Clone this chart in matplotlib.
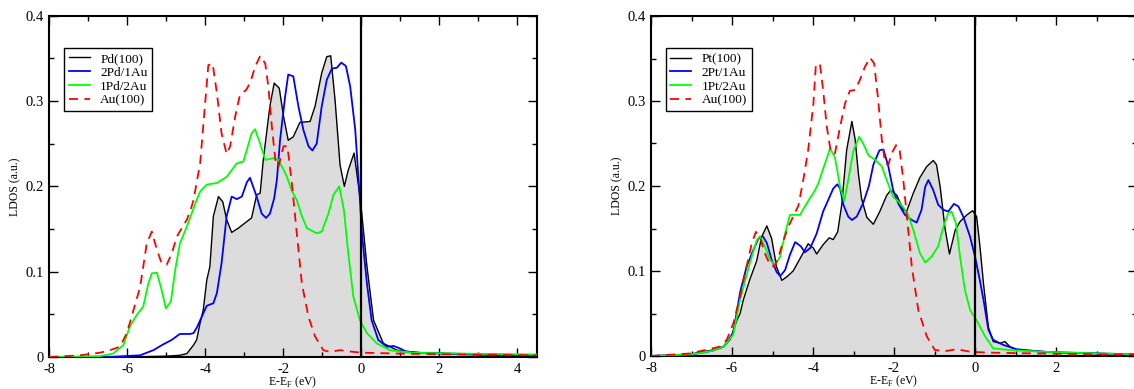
import matplotlib
matplotlib.use("Agg")
import matplotlib.pyplot as plt
from matplotlib.ticker import MultipleLocator, FuncFormatter

plt.rcParams['font.family'] = ['Liberation Serif', 'DejaVu Serif']
plt.rcParams['axes.unicode_minus'] = False
plt.rcParams['mathtext.fontset'] = 'custom'
plt.rcParams['mathtext.rm'] = 'Liberation Serif'

# ---------------- left panel: Pd / Au ----------------
pd_e = [-8, -6, -5, -4.65, -4.47, -4.30, -4.22, -4.13, -4.05, -3.96, -3.88, -3.79, -3.66, -3.55,
        -3.45, -3.32, -3.15, -2.98, -2.81, -2.68, -2.59, -2.51, -2.34, -2.23, -2.10, -1.99, -1.87,
        -1.74, -1.57, -1.31, -1.18, -1.01, -0.88, -0.78, -0.67, -0.54, -0.43, -0.33, -0.18, -0.03,
        0, 0.15, 0.32, 0.57, 0.92, 1.5, 2.5, 3.5, 4.5]
pd_d = [0, 0, 0.001, 0.002, 0.004, 0.014, 0.020, 0.040, 0.055, 0.090, 0.106, 0.165, 0.188, 0.182,
        0.161, 0.146, 0.151, 0.157, 0.163, 0.190, 0.192, 0.231, 0.294, 0.321, 0.315, 0.282, 0.254,
        0.258, 0.275, 0.276, 0.294, 0.333, 0.352, 0.353, 0.302, 0.225, 0.200, 0.219, 0.239, 0.188,
        0.176, 0.106, 0.043, 0.016, 0.008, 0.005, 0.004, 0.003, 0.002]

pd2_e = [-8, -6.5, -5.67, -5.33, -5.07, -4.86, -4.65, -4.39, -4.30, -4.22, -4.09, -3.96, -3.79,
         -3.70, -3.58, -3.45, -3.32, -3.19, -3.06, -2.93, -2.85, -2.68, -2.55, -2.44, -2.34, -2.23,
         -2.16, -2.08, -1.95, -1.87, -1.74, -1.61, -1.48, -1.35, -1.25, -1.14, -1.01, -0.88, -0.75,
         -0.62, -0.51, -0.39, -0.28, -0.15, -0.03, 0.02, 0.15, 0.27, 0.44, 0.66, 0.83, 1.0, 1.17,
         1.51, 2.03, 2.71, 3.5, 4.5]
pd2_d = [0, 0, 0.002, 0.008, 0.015, 0.020, 0.027, 0.027, 0.028, 0.034, 0.047, 0.060, 0.063,
         0.075, 0.110, 0.165, 0.188, 0.185, 0.188, 0.205, 0.210, 0.188, 0.168, 0.163, 0.168, 0.186,
         0.208, 0.254, 0.305, 0.331, 0.329, 0.294, 0.266, 0.247, 0.242, 0.250, 0.294, 0.325, 0.338,
         0.339, 0.345, 0.341, 0.317, 0.266, 0.184, 0.145, 0.086, 0.043, 0.020, 0.012, 0.013, 0.010,
         0.006, 0.005, 0.004, 0.003, 0.002, 0.002]

pd1_e = [-8, -6.70, -6.36, -6.10, -5.93, -5.76, -5.59, -5.46, -5.37, -5.24, -5.12, -5.01, -4.88,
         -4.77, -4.65, -4.47, -4.35, -4.22, -4.13, -3.96, -3.70, -3.45, -3.19, -3.02, -2.81, -2.72,
         -2.59, -2.46, -2.25, -2.12, -1.91, -1.78, -1.65, -1.52, -1.39, -1.14, -1.01, -0.84, -0.71,
         -0.56, -0.44, -0.33, -0.20, -0.03, 0.15, 0.40, 0.74, 1.34, 2.5, 4.5]
pd1_d = [0, 0.001, 0.004, 0.014, 0.036, 0.049, 0.059, 0.086, 0.098, 0.099, 0.079, 0.057, 0.065,
         0.102, 0.133, 0.153, 0.168, 0.184, 0.194, 0.202, 0.204, 0.211, 0.227, 0.229, 0.262, 0.267,
         0.250, 0.231, 0.233, 0.231, 0.212, 0.195, 0.184, 0.165, 0.151, 0.145, 0.147, 0.168, 0.190,
         0.200, 0.172, 0.122, 0.071, 0.043, 0.028, 0.016, 0.008, 0.005, 0.004, 0.003]

au_l_e = [-8, -7.21, -6.70, -6.44, -6.19, -6.01, -5.84, -5.67, -5.50, -5.37, -5.24, -5.12, -4.99,
          -4.86, -4.73, -4.60, -4.47, -4.35, -4.30, -4.13, -4.03, -3.92, -3.81, -3.70, -3.58, -3.45,
          -3.36, -3.23, -3.11, -2.95, -2.85, -2.72, -2.59, -2.46, -2.38, -2.29, -2.20, -2.12, -1.99,
          -1.89, -1.78, -1.65, -1.52, -1.35, -1.18, -0.97, -0.80, -0.54, -0.20, 0.06, 1.0, 2.5, 4.5]
au_l_d = [0, 0.002, 0.005, 0.008, 0.012, 0.028, 0.055, 0.082, 0.133, 0.147, 0.126, 0.110, 0.108,
          0.121, 0.141, 0.151, 0.161, 0.176, 0.184, 0.227, 0.282, 0.342, 0.344, 0.309, 0.262, 0.238,
          0.247, 0.282, 0.307, 0.313, 0.321, 0.340, 0.353, 0.344, 0.317, 0.270, 0.231, 0.223, 0.247,
          0.247, 0.205, 0.145, 0.086, 0.047, 0.024, 0.008, 0.006, 0.008, 0.006, 0.005, 0.004, 0.003,
          0.002]

# ---------------- right panel: Pt / Au ----------------
pt_e = [-8, -7.04, -6.71, -6.38, -6.21, -6.05, -5.88, -5.80, -5.72, -5.56, -5.39, -5.27, -5.14,
        -5.02, -4.90, -4.77, -4.65, -4.49, -4.28, -4.12, -3.99, -3.91, -3.75, -3.60, -3.50, -3.39,
        -3.29, -3.17, -3.04, -2.96, -2.88, -2.80, -2.67, -2.51, -2.35, -2.18, -2.08, -1.93, -1.77,
        -1.69, -1.52, -1.36, -1.19, -1.03, -0.95, -0.86, -0.74, -0.63, -0.49, -0.37, -0.20, -0.06,
        0.04, 0.12, 0.21, 0.33, 0.45, 0.62, 0.74, 0.86, 1.03, 1.44, 2.1, 3.0, 4.0]
pt_d = [0, 0.002, 0.005, 0.008, 0.011, 0.019, 0.042, 0.050, 0.066, 0.090, 0.112, 0.140, 0.153,
        0.138, 0.105, 0.089, 0.093, 0.100, 0.118, 0.132, 0.127, 0.120, 0.131, 0.139, 0.137, 0.146,
        0.178, 0.242, 0.276, 0.255, 0.215, 0.185, 0.163, 0.155, 0.170, 0.189, 0.195, 0.189, 0.172,
        0.170, 0.192, 0.210, 0.223, 0.230, 0.225, 0.199, 0.150, 0.120, 0.148, 0.158, 0.166, 0.171,
        0.164, 0.130, 0.085, 0.034, 0.017, 0.015, 0.017, 0.011, 0.007, 0.006, 0.004, 0.003, 0.002]

pt2_e = [-8, -7.0, -6.5, -6.21, -5.97, -5.80, -5.64, -5.47, -5.35, -5.24, -5.14, -5.02, -4.90,
         -4.81, -4.69, -4.57, -4.44, -4.30, -4.20, -4.07, -3.91, -3.75, -3.62, -3.50, -3.40, -3.33,
         -3.25, -3.13, -3.04, -2.92, -2.76, -2.62, -2.51, -2.36, -2.26, -2.14, -2.02, -1.89, -1.73,
         -1.56, -1.44, -1.32, -1.23, -1.15, -1.03, -0.91, -0.78, -0.66, -0.52, -0.41, -0.29, -0.12,
         0, 0.12, 0.21, 0.33, 0.45, 0.70, 1.03, 1.69, 2.26, 3.0, 4.0]
pt2_d = [0, 0.002, 0.006, 0.011, 0.027, 0.075, 0.105, 0.125, 0.138, 0.141, 0.133, 0.113, 0.099,
         0.094, 0.101, 0.119, 0.134, 0.129, 0.122, 0.127, 0.144, 0.170, 0.184, 0.197, 0.202, 0.197,
         0.178, 0.164, 0.160, 0.164, 0.180, 0.200, 0.225, 0.242, 0.243, 0.223, 0.195, 0.179, 0.166,
         0.160, 0.157, 0.172, 0.199, 0.207, 0.195, 0.178, 0.172, 0.170, 0.179, 0.176, 0.164, 0.140,
         0.117, 0.089, 0.066, 0.031, 0.019, 0.013, 0.008, 0.005, 0.004, 0.003, 0.002]

pt1_e = [-8, -7.0, -6.5, -6.21, -5.97, -5.80, -5.56, -5.39, -5.31, -5.19, -5.06, -4.94, -4.81,
         -4.69, -4.57, -4.44, -4.32, -4.20, -4.07, -3.95, -3.87, -3.70, -3.58, -3.46, -3.33, -3.23,
         -3.13, -3.00, -2.86, -2.76, -2.63, -2.47, -2.30, -2.18, -2.02, -1.85, -1.73, -1.65, -1.52,
         -1.36, -1.23, -1.07, -0.91, -0.78, -0.66, -0.58, -0.47, -0.37, -0.25, -0.12, 0.04, 0.25,
         0.45, 0.86, 1.68, 3.0, 4.0]
pt1_d = [0, 0.002, 0.006, 0.011, 0.025, 0.066, 0.109, 0.136, 0.141, 0.129, 0.113, 0.107, 0.117,
         0.144, 0.166, 0.166, 0.166, 0.176, 0.186, 0.195, 0.203, 0.227, 0.244, 0.234, 0.199, 0.182,
         0.207, 0.242, 0.258, 0.250, 0.236, 0.231, 0.223, 0.207, 0.187, 0.180, 0.172, 0.166, 0.148,
         0.121, 0.110, 0.117, 0.129, 0.152, 0.168, 0.170, 0.156, 0.117, 0.078, 0.054, 0.042, 0.023,
         0.009, 0.007, 0.005, 0.003, 0.002]

au_r_e = [-8, -7.04, -6.30, -6.13, -5.97, -5.80, -5.64, -5.51, -5.41, -5.31, -5.19, -5.06, -4.96,
          -4.86, -4.73, -4.61, -4.49, -4.36, -4.24, -4.12, -3.99, -3.93, -3.83, -3.75, -3.66, -3.56,
          -3.46, -3.33, -3.21, -3.09, -2.96, -2.84, -2.72, -2.59, -2.49, -2.39, -2.30, -2.22, -2.14,
          -2.06, -1.95, -1.87, -1.77, -1.69, -1.56, -1.40, -1.19, -0.99, -0.70, -0.45, -0.12, 0.29,
          1.5, 3.0, 4.0]
au_r_d = [0, 0.003, 0.011, 0.019, 0.038, 0.070, 0.105, 0.133, 0.146, 0.140, 0.121, 0.107, 0.105,
          0.115, 0.136, 0.152, 0.164, 0.177, 0.207, 0.242, 0.297, 0.342, 0.344, 0.313, 0.270, 0.240,
          0.238, 0.270, 0.297, 0.312, 0.313, 0.325, 0.340, 0.351, 0.344, 0.301, 0.254, 0.227, 0.225,
          0.238, 0.248, 0.246, 0.207, 0.168, 0.105, 0.054, 0.023, 0.007, 0.006, 0.008, 0.005, 0.004,
          0.003, 0.002, 0.002]

left_labels = ['Pd(100)', '2Pd/1Au', '1Pd/2Au', 'Au(100)']
right_labels = ['Pt(100)', '2Pt/1Au', '1Pt/2Au', 'Au(100)']
x_ticks = [-8, -6, -4, -2, 0, 2, 4]
y_ticks = [0, 0.1, 0.2, 0.3, 0.4]

fig = plt.figure(figsize=(11.34, 3.89), dpi=100)
axL = fig.add_axes([49.3 / 1134, 1 - 357 / 389, 487.2 / 1134, 341.3 / 389])
axR = fig.add_axes([651 / 1134, 1 - 356 / 389, 486 / 1134, 340 / 389])

fill_col = '#dcdcdc'
panels = [
    (axL, (pd_e, pd_d), (pd2_e, pd2_d), (pd1_e, pd1_d), (au_l_e, au_l_d), left_labels, (-8, 4.5)),
    (axR, (pt_e, pt_d), (pt2_e, pt2_d), (pt1_e, pt1_d), (au_r_e, au_r_d), right_labels, (-8, 4.0)),
]

def yfmt(v, pos):
    return '0' if abs(v) < 1e-9 else f'{v:.1f}'

for ax, base, s2, s1, au, labels, xl in panels:
    ax.fill_between(base[0], 0, base[1], color=fill_col, lw=0, zorder=1)
    l0, = ax.plot(base[0], base[1], color='black', lw=1.0, zorder=3)
    l1, = ax.plot(s2[0], s2[1], color='#0000ff', lw=1.3, zorder=4)
    l2, = ax.plot(s1[0], s1[1], color='#00ff00', lw=1.3, zorder=4)
    l3, = ax.plot(au[0], au[1], color='#ff0000', lw=1.3, ls=(0, (5, 3.5)), zorder=5)
    ax.axvline(0, color='black', lw=1.6, zorder=6)
    ax.set_xlim(*xl)
    ax.set_ylim(0, 0.4)
    ax.set_xticks(x_ticks)
    ax.set_yticks(y_ticks)
    ax.xaxis.set_minor_locator(MultipleLocator(1))
    ax.yaxis.set_minor_locator(MultipleLocator(0.05))
    ax.yaxis.set_major_formatter(FuncFormatter(yfmt))
    ax.tick_params(which='both', direction='in', top=True, right=True, width=1.0,
                   labelsize=10.5, pad=4)
    ax.tick_params(which='major', length=6.5)
    ax.tick_params(which='minor', length=3.5)
    for sp in ax.spines.values():
        sp.set_linewidth(1.5)
    ax.set_ylabel('LDOS (a.u.)', fontsize=8.5, labelpad=3)
    ax.set_xlabel('E-E$_\\mathregular{F}$ (eV)', fontsize=8.5, labelpad=-1)
    leg = ax.legend([l0, l1, l2, l3], labels, loc='upper left',
                    bbox_to_anchor=(0.030, 0.905), borderaxespad=0, fontsize=9.5,
                    handlelength=1.6, handletextpad=0.8, labelspacing=0.12,
                    borderpad=0.35, fancybox=False, framealpha=1)
    leg.get_frame().set_edgecolor('black')
    leg.get_frame().set_linewidth(1.0)

fig.savefig('out.png', dpi=100)
